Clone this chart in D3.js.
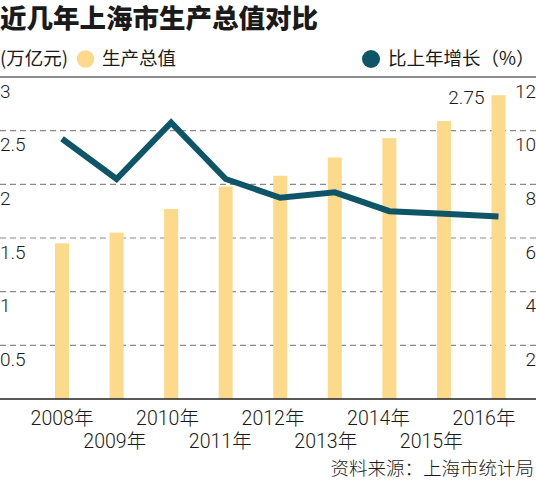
<!DOCTYPE html>
<html>
<head>
<meta charset="utf-8">
<script src="https://cdn.jsdelivr.net/npm/d3@7/dist/d3.min.js"></script>
<style>
  html, body { margin: 0; padding: 0; background: #fff; }
  svg { display: block; }
  text { font-family: "Noto Sans CJK SC", "Noto Sans", sans-serif; fill: #1a1a1a; }
  text.num { font-family: Roboto, "Noto Sans CJK SC", sans-serif; font-weight: 300; }
</style>
</head>
<body>
<script>
// ---- data ----
const years = ["2008年","2009年","2010年","2011年","2012年","2013年","2014年","2015年","2016年"];
const gdp = [1.45, 1.55, 1.77, 1.98, 2.08, 2.25, 2.43, 2.59, 2.83];   // 万亿元 (bars)
const growth = [9.7, 8.2, 10.3, 8.2, 7.5, 7.7, 7.0, 6.9, 6.8];        // % (line)
const leftTicks = [0.5, 1, 1.5, 2, 2.5, 3];
const leftTickLabels = ["0.5", "1", "1.5", "2", "2.5", "3"];
const rightTicks = [2, 4, 6, 8, 10, 12];
const lastLabel = "2.75";
const title = "近几年上海市生产总值对比";
const unitLabel = "(万亿元)";
const barLegend = "生产总值";
const lineLegend = "比上年增长（%）";
const source = "资料来源：上海市统计局";

// ---- setup ----
const W = 536, H = 480;
const barColor = "#fdd98c", lineColor = "#0d5567";
const svg = d3.select("body").append("svg").attr("width", W).attr("height", H);

const x = d3.scalePoint().domain(years).range([62, 498.5]);
const xLab = d3.scalePoint().domain(years).range([62, 484]);
const yL = d3.scaleLinear().domain([0, 3]).range([399, 77]);
const yR = d3.scaleLinear().domain([0, 12]).range([399, 77]);
const barW = 14;

// title
svg.append("text").attr("x", 0).attr("y", 28)
  .style("font-size", "26.5px").style("font-weight", 900).text(title);

// legend
svg.append("text").attr("x", 0).attr("y", 65).style("font-size", "18.5px").text(unitLabel);
svg.append("circle").attr("cx", 85.5).attr("cy", 59).attr("r", 8.7).attr("fill", barColor);
svg.append("text").attr("x", 102).attr("y", 65).style("font-size", "18.5px").text(barLegend);
svg.append("circle").attr("cx", 371).attr("cy", 59).attr("r", 9).attr("fill", lineColor);
svg.append("text").attr("x", 388).attr("y", 65).style("font-size", "18.5px").text(lineLegend);

// grid
const grid = svg.append("g");
grid.selectAll("line.g").data(leftTicks.filter(v => v < 3)).join("line")
  .attr("x1", 0).attr("x2", W)
  .attr("y1", d => yL(d)).attr("y2", d => yL(d))
  .attr("stroke", "#8a8a8a").attr("stroke-width", 1.2).attr("stroke-dasharray", "6,4");
grid.append("line").attr("x1", 0).attr("x2", W).attr("y1", yL(3)).attr("y2", yL(3))
  .attr("stroke", "#666").attr("stroke-width", 1.3);

// left tick labels
svg.append("g").selectAll("text").data(leftTicks).join("text")
  .attr("class", "num")
  .attr("x", 0).attr("y", d => yL(d) + 20.5)
  .style("font-size", "19px")
  .text((d, i) => leftTickLabels[i]);

// right tick labels
svg.append("g").selectAll("text").data(rightTicks).join("text")
  .attr("class", "num")
  .attr("x", W).attr("y", d => yR(d) + 20.5).attr("text-anchor", "end")
  .style("font-size", "19px")
  .text(d => d);

// bars
svg.append("g").selectAll("rect").data(gdp).join("rect")
  .attr("x", (d, i) => x(years[i]) - barW / 2)
  .attr("width", barW)
  .attr("y", d => yL(d))
  .attr("height", d => yL(0) - yL(d))
  .attr("fill", barColor);

// baseline
svg.append("line").attr("x1", 0).attr("x2", W).attr("y1", yL(0)).attr("y2", yL(0))
  .attr("stroke", "#222").attr("stroke-width", 1.6);

// line
const line = d3.line().x((d, i) => x(years[i])).y(d => yR(d));
svg.append("path").datum(growth).attr("d", line)
  .attr("fill", "none").attr("stroke", lineColor).attr("stroke-width", 6)
  .attr("stroke-linejoin", "miter").attr("stroke-miterlimit", 3);

// last bar label
svg.append("text")
  .attr("class", "num")
  .attr("x", x(years[years.length - 1]) - 14)
  .attr("y", yL(gdp[gdp.length - 1]) + 9)
  .attr("text-anchor", "end")
  .style("font-size", "19px")
  .text(lastLabel);

// x labels (staggered)
svg.append("g").selectAll("text").data(years).join("text")
  .attr("class", "num")
  .attr("x", d => xLab(d))
  .attr("y", (d, i) => i % 2 === 0 ? 425 : 448)
  .attr("text-anchor", "middle")
  .style("font-size", "19.5px")
  .text(d => d);

// source
svg.append("text").attr("x", 534).attr("y", 475).attr("text-anchor", "end")
  .style("font-size", "18.5px").style("font-weight", 300).text(source);
</script>
</body>
</html>
